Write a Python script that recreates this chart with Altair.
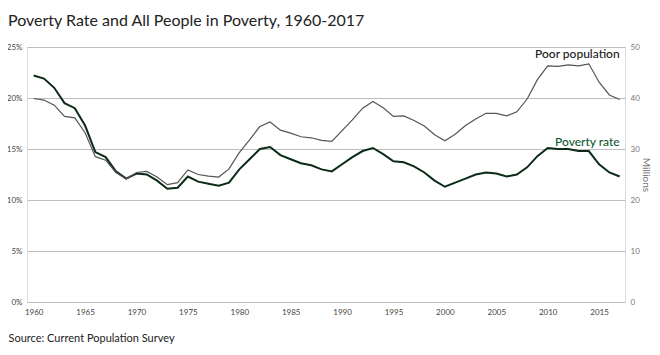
import altair as alt
import pandas as pd

years = list(range(1960, 2018))
poverty_rate = [22.2, 21.9, 21.0, 19.5, 19.0, 17.3, 14.7, 14.2, 12.8, 12.1,
                12.6, 12.5, 11.9, 11.1, 11.2, 12.3, 11.8, 11.6, 11.4, 11.7,
                13.0, 14.0, 15.0, 15.2, 14.4, 14.0, 13.6, 13.4, 13.0, 12.8,
                13.5, 14.2, 14.8, 15.1, 14.5, 13.8, 13.7, 13.3, 12.7, 11.9,
                11.3, 11.7, 12.1, 12.5, 12.7, 12.6, 12.3, 12.5, 13.2, 14.3,
                15.1, 15.0, 15.0, 14.8, 14.8, 13.5, 12.7, 12.3]
poor_population = [39.9, 39.6, 38.6, 36.4, 36.1, 33.2, 28.5, 27.8, 25.4, 24.1,
                   25.4, 25.6, 24.5, 23.0, 23.4, 25.9, 25.0, 24.7, 24.5, 26.1,
                   29.3, 31.8, 34.4, 35.3, 33.7, 33.1, 32.4, 32.2, 31.7, 31.5,
                   33.6, 35.7, 38.0, 39.3, 38.1, 36.4, 36.5, 35.6, 34.5, 32.8,
                   31.6, 32.9, 34.6, 35.9, 37.0, 37.0, 36.5, 37.3, 39.8, 43.6,
                   46.3, 46.2, 46.5, 46.3, 46.7, 43.1, 40.6, 39.7]
x_ticks = [1960, 1965, 1970, 1975, 1980, 1985, 1990, 1995, 2000, 2005, 2010, 2015]
left_ticks = [0, 5, 10, 15, 20, 25]
right_ticks = [0, 10, 20, 30, 40, 50]
label_text = ["Poor population", "Poverty rate"]
label_year = [2017, 2017]
label_millions = [48.7, 31.3]

df = pd.DataFrame({"year": years, "rate": poverty_rate, "pop": poor_population})
labels = pd.DataFrame({"label": label_text, "year": label_year, "pop": label_millions})

FONT = "Lato"
PADL = 19
xscale = alt.Scale(domain=[1959.35, 2017.52], nice=False, zero=False)
xaxis = alt.Axis(values=x_ticks, format="d", grid=False, domain=False, ticks=False,
                 labelFontSize=8, labelColor="#444", labelPadding=6, labelFont=FONT,
                 title="Source: Current Population Survey", titleFont=FONT,
                 titleFontSize=11, titleFontWeight="normal", titleColor="#222",
                 titleAnchor="start", titleAlign="left", titleBaseline="middle",
                 titleX=-PADL, titleY=36)

rate_line = alt.Chart(df).mark_line(color="#0b2b17", strokeWidth=2).encode(
    x=alt.X("year:Q", scale=xscale, axis=xaxis),
    y=alt.Y("rate:Q", scale=alt.Scale(domain=[0, 25], nice=False),
            axis=alt.Axis(values=left_ticks, labelExpr="datum.value + '%'",
                          grid=True, gridColor="#bdbdbd", gridWidth=1,
                          domain=False, ticks=False, labelFontSize=8,
                          labelColor="#444", labelPadding=5, labelFont=FONT,
                          title=None)),
)

right_axis = alt.Axis(values=right_ticks, orient="right", grid=False, domain=False,
                      ticks=False, labelFontSize=8, labelColor="#777", labelPadding=5,
                      labelFont=FONT, title="Millions", titleFont=FONT,
                      titleFontSize=10, titleFontWeight="normal", titleColor="#777",
                      titlePadding=1)
yscale_r = alt.Scale(domain=[0, 50], nice=False)

pop_line = alt.Chart(df).mark_line(color="#555555", strokeWidth=1.2).encode(
    x=alt.X("year:Q", scale=xscale),
    y=alt.Y("pop:Q", scale=yscale_r, axis=right_axis),
)

label_marks = alt.Chart(labels).mark_text(align="right", baseline="middle",
                                          font=FONT, fontSize=12, fontWeight=500).encode(
    x=alt.X("year:Q", scale=xscale),
    y=alt.Y("pop:Q", scale=yscale_r, axis=right_axis),
    text="label:N",
    color=alt.Color("label:N", scale=alt.Scale(domain=label_text,
                                               range=["#1a1a1a", "#0b5a2e"]),
                    legend=None),
)

right_layer = alt.layer(pop_line, label_marks)

chart = alt.layer(rate_line, right_layer).resolve_scale(y="independent").properties(
    width=598, height=255,
    padding={"left": PADL, "top": 39, "right": 27, "bottom": 45},
    autosize=alt.AutoSizeParams(type="none"),
    title=alt.TitleParams("Poverty Rate and All People in Poverty, 1960-2017",
                          anchor="start", frame="group", dx=-PADL, offset=14,
                          font=FONT, fontSize=16, fontWeight="normal", color="#222"),
).configure_view(stroke=None).configure(background="white")

chart.save("out.html", embed_options={"renderer": "svg", "actions": False})
